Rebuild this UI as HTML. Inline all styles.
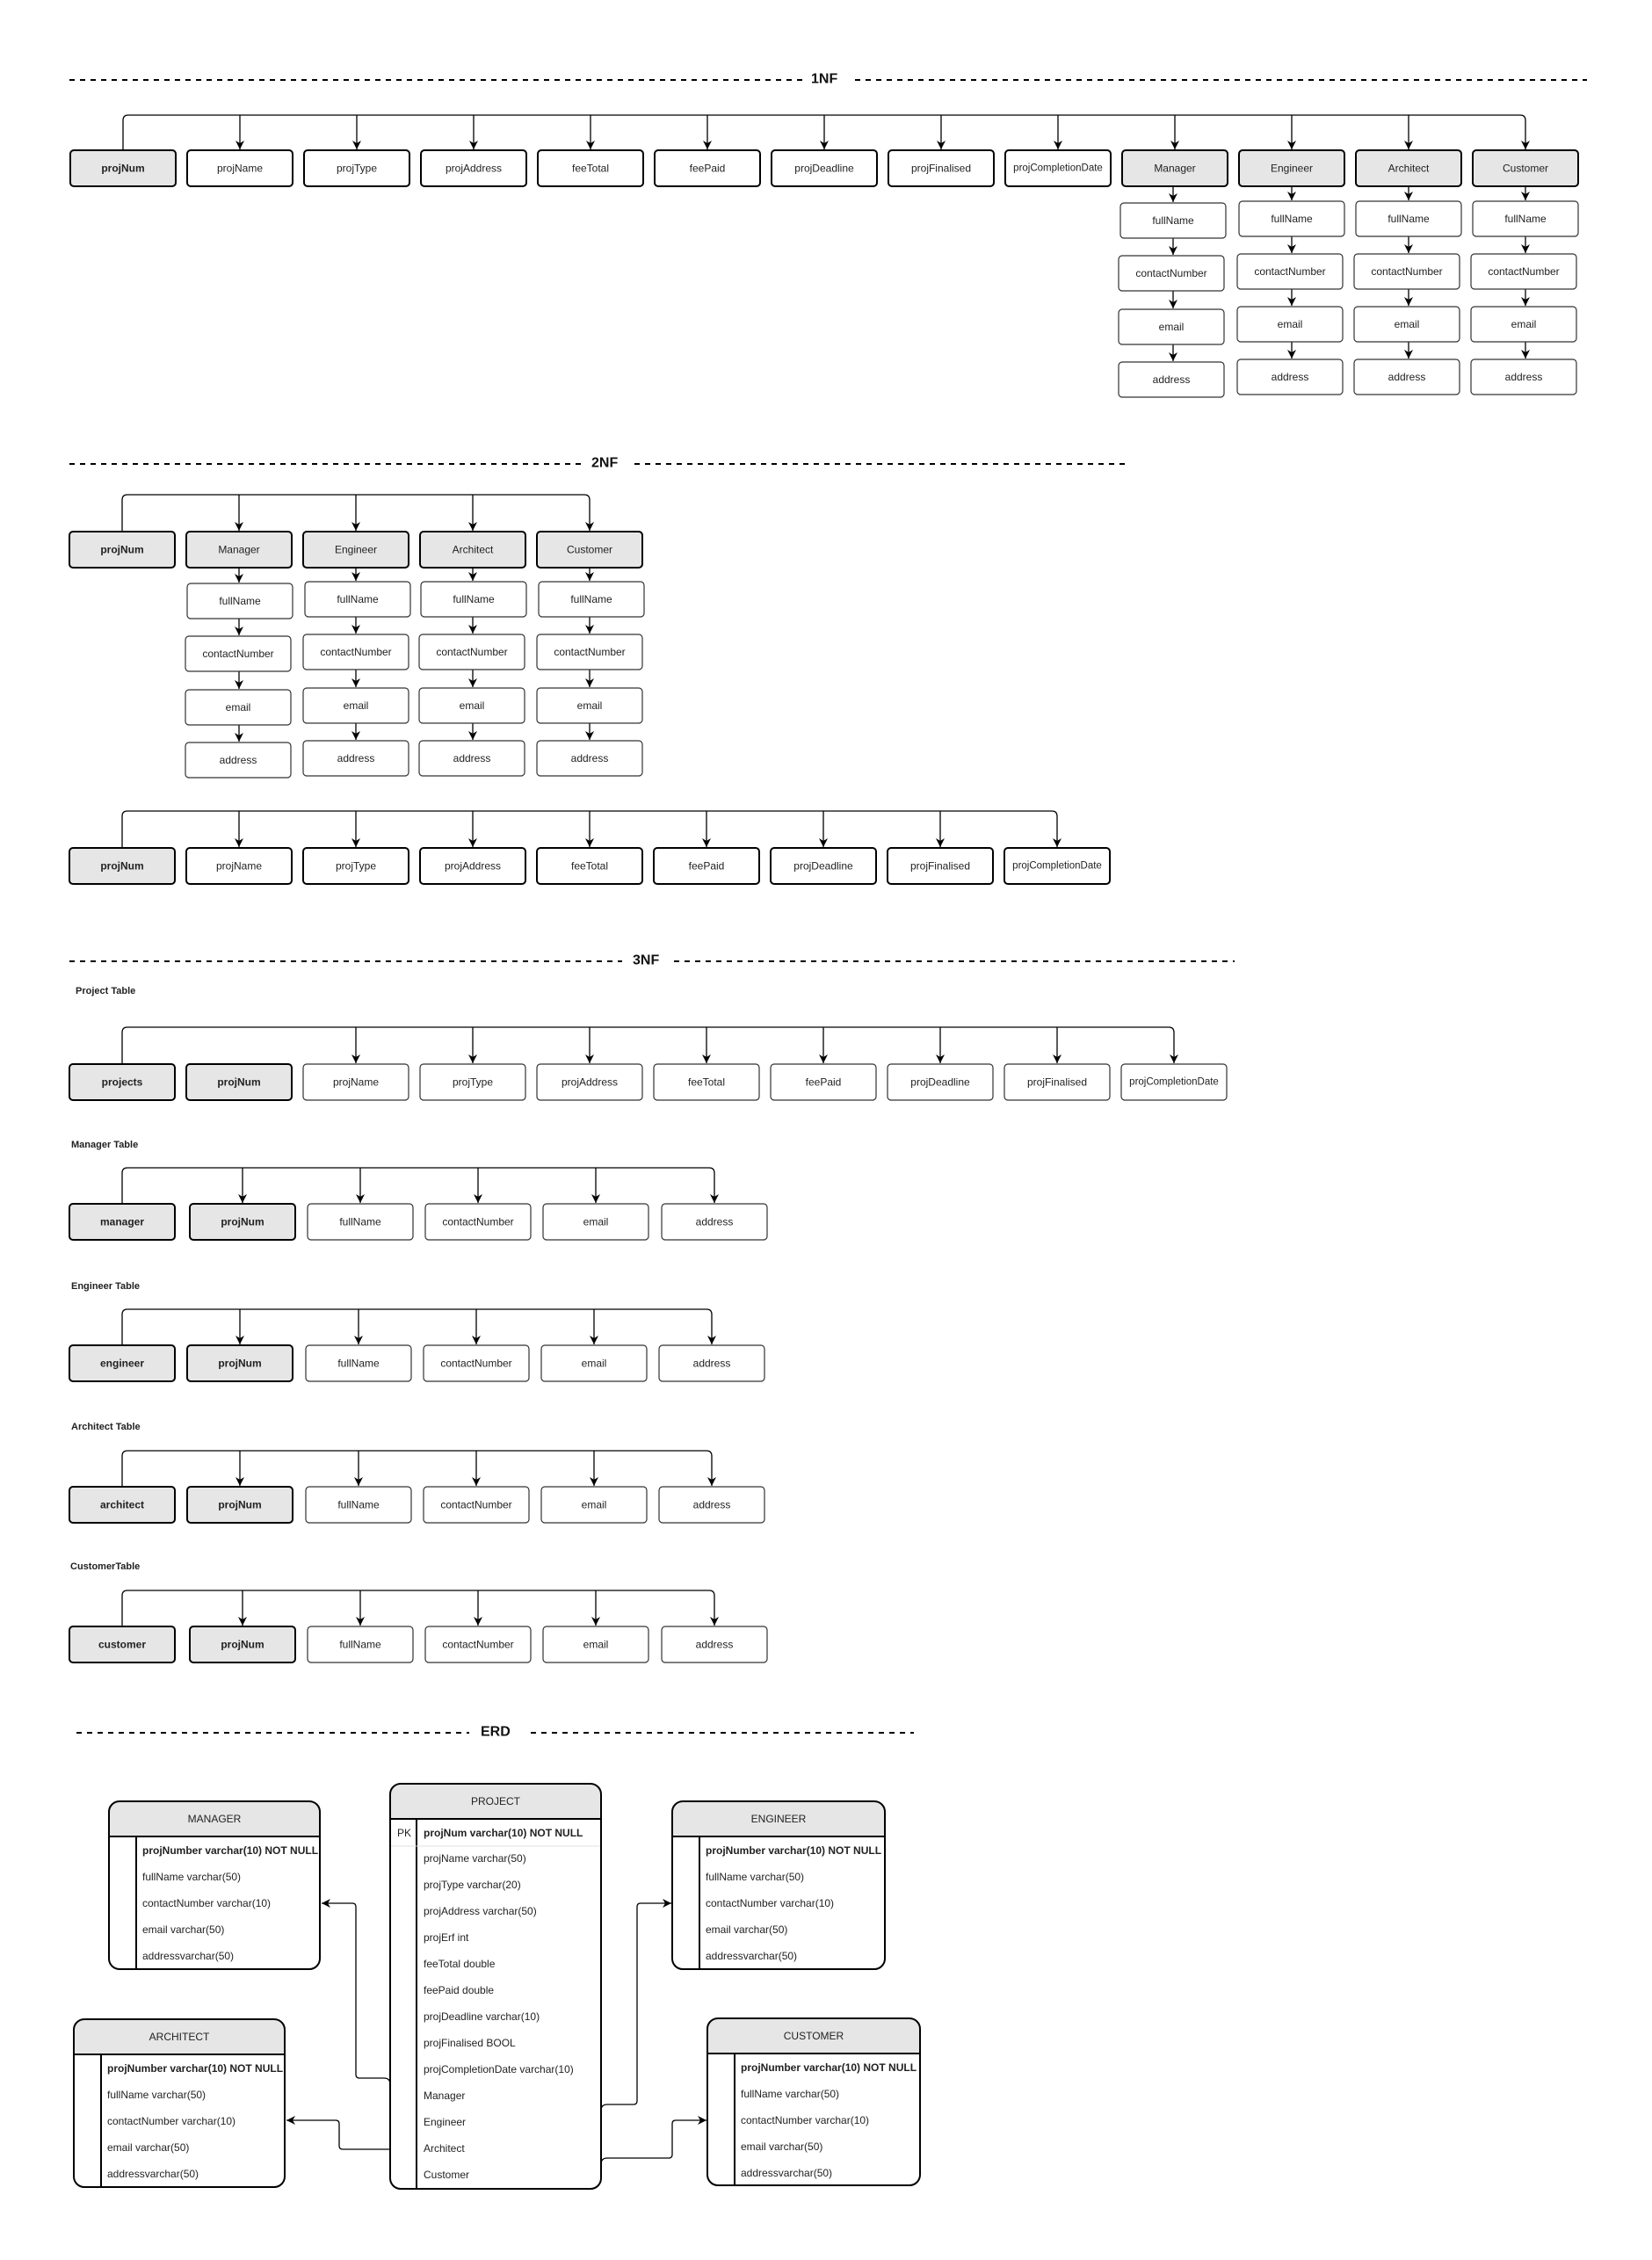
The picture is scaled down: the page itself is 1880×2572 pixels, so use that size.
<!DOCTYPE html>
<html><head><meta charset="utf-8"><style>
html,body{margin:0;padding:0;background:#fff}
svg{display:block}
text{font-family:"Liberation Sans",Arial,sans-serif;fill:#222}
.c{font-size:12px;text-anchor:middle;dominant-baseline:central}
.b{font-weight:bold}
.h{font-size:16px;font-weight:bold;dominant-baseline:central;fill:#111}
.tl{font-size:11px;font-weight:bold;dominant-baseline:central}
.r{font-size:12px;dominant-baseline:central}
.k{fill:#e6e6e6;stroke:#000;stroke-width:2}
.t{fill:#fff;stroke:#000;stroke-width:2}
.n{fill:#fff;stroke:#333;stroke-width:1.2}
.d{stroke:#000;stroke-width:2;stroke-dasharray:6 6;fill:none}
.w{stroke:#000;stroke-width:1.3;fill:none}
</style></head><body>
<svg width="1880" height="2572" viewBox="0 0 1880 2572" xmlns="http://www.w3.org/2000/svg">
<defs>
<marker id="a" markerUnits="userSpaceOnUse" markerWidth="12" markerHeight="12" refX="10" refY="5" orient="auto" viewBox="0 0 12 10">
<path d="M0,0 L10,5 L0,10 L3,5 Z" fill="#000"/></marker>
</defs>

<!-- ========== 1NF ========== -->
<line class="d" x1="79" y1="91" x2="915" y2="91"/>
<text class="h" x="923" y="90">1NF</text>
<line class="d" x1="973" y1="91" x2="1806" y2="91"/>

<path class="w" d="M140,171 V137 Q140,131 146,131 H1730 Q1736,131 1736,137 V170" marker-end="url(#a)"/>
<g class="w" marker-end="url(#a)">
<line x1="273" y1="131" x2="273" y2="170"/><line x1="406" y1="131" x2="406" y2="170"/>
<line x1="539" y1="131" x2="539" y2="170"/><line x1="672" y1="131" x2="672" y2="170"/>
<line x1="805" y1="131" x2="805" y2="170"/><line x1="938" y1="131" x2="938" y2="170"/>
<line x1="1071" y1="131" x2="1071" y2="170"/><line x1="1204" y1="131" x2="1204" y2="170"/>
<line x1="1337" y1="131" x2="1337" y2="170"/><line x1="1470" y1="131" x2="1470" y2="170"/>
<line x1="1603" y1="131" x2="1603" y2="170"/>
</g>
<rect class="k" x="80" y="171" width="120" height="41" rx="4"/><text class="c b" x="140" y="191.5">projNum</text>
<rect class="t" x="213" y="171" width="120" height="41" rx="4"/><text class="c" x="273" y="191.5">projName</text>
<rect class="t" x="346" y="171" width="120" height="41" rx="4"/><text class="c" x="406" y="191.5">projType</text>
<rect class="t" x="479" y="171" width="120" height="41" rx="4"/><text class="c" x="539" y="191.5">projAddress</text>
<rect class="t" x="612" y="171" width="120" height="41" rx="4"/><text class="c" x="672" y="191.5">feeTotal</text>
<rect class="t" x="745" y="171" width="120" height="41" rx="4"/><text class="c" x="805" y="191.5">feePaid</text>
<rect class="t" x="878" y="171" width="120" height="41" rx="4"/><text class="c" x="938" y="191.5">projDeadline</text>
<rect class="t" x="1011" y="171" width="120" height="41" rx="4"/><text class="c" x="1071" y="191.5">projFinalised</text>
<rect class="t" x="1144" y="171" width="120" height="41" rx="4"/><text class="c" x="1204" y="191.5" style="font-size:11.5px">projCompletionDate</text>
<rect class="k" x="1277" y="171" width="120" height="41" rx="4"/><text class="c" x="1337" y="191.5">Manager</text>
<rect class="k" x="1410" y="171" width="120" height="41" rx="4"/><text class="c" x="1470" y="191.5">Engineer</text>
<rect class="k" x="1543" y="171" width="120" height="41" rx="4"/><text class="c" x="1603" y="191.5">Architect</text>
<rect class="k" x="1676" y="171" width="120" height="41" rx="4"/><text class="c" x="1736" y="191.5">Customer</text>

<!-- 1NF subs: Manager -->
<g class="w" marker-end="url(#a)">
<line x1="1335" y1="212" x2="1335" y2="230"/><line x1="1335" y1="271" x2="1335" y2="290"/>
<line x1="1335" y1="331" x2="1335" y2="351"/><line x1="1335" y1="392" x2="1335" y2="411"/>
<line x1="1470" y1="212" x2="1470" y2="228"/><line x1="1470" y1="269" x2="1470" y2="288"/>
<line x1="1470" y1="329" x2="1470" y2="348"/><line x1="1470" y1="389" x2="1470" y2="408"/>
<line x1="1603" y1="212" x2="1603" y2="228"/><line x1="1603" y1="269" x2="1603" y2="288"/>
<line x1="1603" y1="329" x2="1603" y2="348"/><line x1="1603" y1="389" x2="1603" y2="408"/>
<line x1="1736" y1="212" x2="1736" y2="228"/><line x1="1736" y1="269" x2="1736" y2="288"/>
<line x1="1736" y1="329" x2="1736" y2="348"/><line x1="1736" y1="389" x2="1736" y2="408"/>
</g>
<rect class="n" x="1275" y="231" width="120" height="40" rx="4"/><text class="c" x="1335" y="251">fullName</text>
<rect class="n" x="1273" y="291" width="120" height="40" rx="4"/><text class="c" x="1333" y="311">contactNumber</text>
<rect class="n" x="1273" y="352" width="120" height="40" rx="4"/><text class="c" x="1333" y="372">email</text>
<rect class="n" x="1273" y="412" width="120" height="40" rx="4"/><text class="c" x="1333" y="432">address</text>

<rect class="n" x="1410" y="229" width="120" height="40" rx="4"/><text class="c" x="1470" y="249">fullName</text>
<rect class="n" x="1408" y="289" width="120" height="40" rx="4"/><text class="c" x="1468" y="309">contactNumber</text>
<rect class="n" x="1408" y="349" width="120" height="40" rx="4"/><text class="c" x="1468" y="369">email</text>
<rect class="n" x="1408" y="409" width="120" height="40" rx="4"/><text class="c" x="1468" y="429">address</text>

<rect class="n" x="1543" y="229" width="120" height="40" rx="4"/><text class="c" x="1603" y="249">fullName</text>
<rect class="n" x="1541" y="289" width="120" height="40" rx="4"/><text class="c" x="1601" y="309">contactNumber</text>
<rect class="n" x="1541" y="349" width="120" height="40" rx="4"/><text class="c" x="1601" y="369">email</text>
<rect class="n" x="1541" y="409" width="120" height="40" rx="4"/><text class="c" x="1601" y="429">address</text>

<rect class="n" x="1676" y="229" width="120" height="40" rx="4"/><text class="c" x="1736" y="249">fullName</text>
<rect class="n" x="1674" y="289" width="120" height="40" rx="4"/><text class="c" x="1734" y="309">contactNumber</text>
<rect class="n" x="1674" y="349" width="120" height="40" rx="4"/><text class="c" x="1734" y="369">email</text>
<rect class="n" x="1674" y="409" width="120" height="40" rx="4"/><text class="c" x="1734" y="429">address</text>

<!-- ========== 2NF ========== -->
<line class="d" x1="79" y1="528" x2="662" y2="528"/>
<text class="h" x="673" y="527">2NF</text>
<line class="d" x1="722" y1="528" x2="1281" y2="528"/>

<path class="w" d="M139,605 V569 Q139,563 145,563 H665 Q671,563 671,569 V604" marker-end="url(#a)"/>
<g class="w" marker-end="url(#a)">
<line x1="272" y1="563" x2="272" y2="604"/><line x1="405" y1="563" x2="405" y2="604"/><line x1="538" y1="563" x2="538" y2="604"/>
</g>
<rect class="k" x="79" y="605" width="120" height="41" rx="4"/><text class="c b" x="139" y="625.5">projNum</text>
<rect class="k" x="212" y="605" width="120" height="41" rx="4"/><text class="c" x="272" y="625.5">Manager</text>
<rect class="k" x="345" y="605" width="120" height="41" rx="4"/><text class="c" x="405" y="625.5">Engineer</text>
<rect class="k" x="478" y="605" width="120" height="41" rx="4"/><text class="c" x="538" y="625.5">Architect</text>
<rect class="k" x="611" y="605" width="120" height="41" rx="4"/><text class="c" x="671" y="625.5">Customer</text>

<g class="w" marker-end="url(#a)">
<line x1="272" y1="646" x2="272" y2="663"/><line x1="272" y1="704" x2="272" y2="723"/><line x1="272" y1="764" x2="272" y2="784"/><line x1="272" y1="825" x2="272" y2="844"/>
<line x1="405" y1="646" x2="405" y2="661"/><line x1="405" y1="702" x2="405" y2="721"/><line x1="405" y1="762" x2="405" y2="782"/><line x1="405" y1="823" x2="405" y2="842"/>
<line x1="538" y1="646" x2="538" y2="661"/><line x1="538" y1="702" x2="538" y2="721"/><line x1="538" y1="762" x2="538" y2="782"/><line x1="538" y1="823" x2="538" y2="842"/>
<line x1="671" y1="646" x2="671" y2="661"/><line x1="671" y1="702" x2="671" y2="721"/><line x1="671" y1="762" x2="671" y2="782"/><line x1="671" y1="823" x2="671" y2="842"/>
</g>
<rect class="n" x="213" y="664" width="120" height="40" rx="4"/><text class="c" x="273" y="684">fullName</text>
<rect class="n" x="211" y="724" width="120" height="40" rx="4"/><text class="c" x="271" y="744">contactNumber</text>
<rect class="n" x="211" y="785" width="120" height="40" rx="4"/><text class="c" x="271" y="805">email</text>
<rect class="n" x="211" y="845" width="120" height="40" rx="4"/><text class="c" x="271" y="865">address</text>

<rect class="n" x="347" y="662" width="120" height="40" rx="4"/><text class="c" x="407" y="682">fullName</text>
<rect class="n" x="345" y="722" width="120" height="40" rx="4"/><text class="c" x="405" y="742">contactNumber</text>
<rect class="n" x="345" y="783" width="120" height="40" rx="4"/><text class="c" x="405" y="803">email</text>
<rect class="n" x="345" y="843" width="120" height="40" rx="4"/><text class="c" x="405" y="863">address</text>

<rect class="n" x="479" y="662" width="120" height="40" rx="4"/><text class="c" x="539" y="682">fullName</text>
<rect class="n" x="477" y="722" width="120" height="40" rx="4"/><text class="c" x="537" y="742">contactNumber</text>
<rect class="n" x="477" y="783" width="120" height="40" rx="4"/><text class="c" x="537" y="803">email</text>
<rect class="n" x="477" y="843" width="120" height="40" rx="4"/><text class="c" x="537" y="863">address</text>

<rect class="n" x="613" y="662" width="120" height="40" rx="4"/><text class="c" x="673" y="682">fullName</text>
<rect class="n" x="611" y="722" width="120" height="40" rx="4"/><text class="c" x="671" y="742">contactNumber</text>
<rect class="n" x="611" y="783" width="120" height="40" rx="4"/><text class="c" x="671" y="803">email</text>
<rect class="n" x="611" y="843" width="120" height="40" rx="4"/><text class="c" x="671" y="863">address</text>

<!-- 2NF bottom row -->
<path class="w" d="M139,965 V929 Q139,923 145,923 H1197 Q1203,923 1203,929 V964" marker-end="url(#a)"/>
<g class="w" marker-end="url(#a)">
<line x1="272" y1="923" x2="272" y2="964"/><line x1="405" y1="923" x2="405" y2="964"/><line x1="538" y1="923" x2="538" y2="964"/>
<line x1="671" y1="923" x2="671" y2="964"/><line x1="804" y1="923" x2="804" y2="964"/><line x1="937" y1="923" x2="937" y2="964"/>
<line x1="1070" y1="923" x2="1070" y2="964"/>
</g>
<rect class="k" x="79" y="965" width="120" height="41" rx="4"/><text class="c b" x="139" y="985.5">projNum</text>
<rect class="t" x="212" y="965" width="120" height="41" rx="4"/><text class="c" x="272" y="985.5">projName</text>
<rect class="t" x="345" y="965" width="120" height="41" rx="4"/><text class="c" x="405" y="985.5">projType</text>
<rect class="t" x="478" y="965" width="120" height="41" rx="4"/><text class="c" x="538" y="985.5">projAddress</text>
<rect class="t" x="611" y="965" width="120" height="41" rx="4"/><text class="c" x="671" y="985.5">feeTotal</text>
<rect class="t" x="744" y="965" width="120" height="41" rx="4"/><text class="c" x="804" y="985.5">feePaid</text>
<rect class="t" x="877" y="965" width="120" height="41" rx="4"/><text class="c" x="937" y="985.5">projDeadline</text>
<rect class="t" x="1010" y="965" width="120" height="41" rx="4"/><text class="c" x="1070" y="985.5">projFinalised</text>
<rect class="t" x="1143" y="965" width="120" height="41" rx="4"/><text class="c" x="1203" y="985.5" style="font-size:11.5px">projCompletionDate</text>

<!-- ========== 3NF ========== -->
<line class="d" x1="79" y1="1094" x2="708" y2="1094"/>
<text class="h" x="720" y="1093">3NF</text>
<line class="d" x1="767" y1="1094" x2="1405" y2="1094"/>

<text class="tl" x="86" y="1128">Project Table</text>
<path class="w" d="M139,1211 V1175 Q139,1169 145,1169 H1330 Q1336,1169 1336,1175 V1210" marker-end="url(#a)"/>
<g class="w" marker-end="url(#a)">
<line x1="405" y1="1169" x2="405" y2="1210"/><line x1="538" y1="1169" x2="538" y2="1210"/><line x1="671" y1="1169" x2="671" y2="1210"/>
<line x1="804" y1="1169" x2="804" y2="1210"/><line x1="937" y1="1169" x2="937" y2="1210"/><line x1="1070" y1="1169" x2="1070" y2="1210"/>
<line x1="1203" y1="1169" x2="1203" y2="1210"/>
</g>
<rect class="k" x="79" y="1211" width="120" height="41" rx="4"/><text class="c b" x="139" y="1231.5">projects</text>
<rect class="k" x="212" y="1211" width="120" height="41" rx="4"/><text class="c b" x="272" y="1231.5">projNum</text>
<rect class="n" x="345" y="1211" width="120" height="41" rx="4"/><text class="c" x="405" y="1231.5">projName</text>
<rect class="n" x="478" y="1211" width="120" height="41" rx="4"/><text class="c" x="538" y="1231.5">projType</text>
<rect class="n" x="611" y="1211" width="120" height="41" rx="4"/><text class="c" x="671" y="1231.5">projAddress</text>
<rect class="n" x="744" y="1211" width="120" height="41" rx="4"/><text class="c" x="804" y="1231.5">feeTotal</text>
<rect class="n" x="877" y="1211" width="120" height="41" rx="4"/><text class="c" x="937" y="1231.5">feePaid</text>
<rect class="n" x="1010" y="1211" width="120" height="41" rx="4"/><text class="c" x="1070" y="1231.5">projDeadline</text>
<rect class="n" x="1143" y="1211" width="120" height="41" rx="4"/><text class="c" x="1203" y="1231.5">projFinalised</text>
<rect class="n" x="1276" y="1211" width="120" height="41" rx="4"/><text class="c" x="1336" y="1231.5" style="font-size:11.5px">projCompletionDate</text>

<!-- Manager Table -->
<text class="tl" x="81" y="1303">Manager Table</text>
<path class="w" d="M139,1370 V1335 Q139,1329 145,1329 H807 Q813,1329 813,1335 V1369" marker-end="url(#a)"/>
<g class="w" marker-end="url(#a)">
<line x1="276" y1="1329" x2="276" y2="1369"/><line x1="410" y1="1329" x2="410" y2="1369"/><line x1="544" y1="1329" x2="544" y2="1369"/><line x1="678" y1="1329" x2="678" y2="1369"/>
</g>
<rect class="k" x="79" y="1370" width="120" height="41" rx="4"/><text class="c b" x="139" y="1390.5">manager</text>
<rect class="k" x="216" y="1370" width="120" height="41" rx="4"/><text class="c b" x="276" y="1390.5">projNum</text>
<rect class="n" x="350" y="1370" width="120" height="41" rx="4"/><text class="c" x="410" y="1390.5">fullName</text>
<rect class="n" x="484" y="1370" width="120" height="41" rx="4"/><text class="c" x="544" y="1390.5">contactNumber</text>
<rect class="n" x="618" y="1370" width="120" height="41" rx="4"/><text class="c" x="678" y="1390.5">email</text>
<rect class="n" x="753" y="1370" width="120" height="41" rx="4"/><text class="c" x="813" y="1390.5">address</text>

<!-- Engineer Table -->
<text class="tl" x="81" y="1464">Engineer Table</text>
<path class="w" d="M139,1531 V1496 Q139,1490 145,1490 H804 Q810,1490 810,1496 V1530" marker-end="url(#a)"/>
<g class="w" marker-end="url(#a)">
<line x1="273" y1="1490" x2="273" y2="1530"/><line x1="408" y1="1490" x2="408" y2="1530"/><line x1="542" y1="1490" x2="542" y2="1530"/><line x1="676" y1="1490" x2="676" y2="1530"/>
</g>
<rect class="k" x="79" y="1531" width="120" height="41" rx="4"/><text class="c b" x="139" y="1551.5">engineer</text>
<rect class="k" x="213" y="1531" width="120" height="41" rx="4"/><text class="c b" x="273" y="1551.5">projNum</text>
<rect class="n" x="348" y="1531" width="120" height="41" rx="4"/><text class="c" x="408" y="1551.5">fullName</text>
<rect class="n" x="482" y="1531" width="120" height="41" rx="4"/><text class="c" x="542" y="1551.5">contactNumber</text>
<rect class="n" x="616" y="1531" width="120" height="41" rx="4"/><text class="c" x="676" y="1551.5">email</text>
<rect class="n" x="750" y="1531" width="120" height="41" rx="4"/><text class="c" x="810" y="1551.5">address</text>

<!-- Architect Table -->
<text class="tl" x="81" y="1624">Architect Table</text>
<path class="w" d="M139,1692 V1657 Q139,1651 145,1651 H804 Q810,1651 810,1657 V1691" marker-end="url(#a)"/>
<g class="w" marker-end="url(#a)">
<line x1="273" y1="1651" x2="273" y2="1691"/><line x1="408" y1="1651" x2="408" y2="1691"/><line x1="542" y1="1651" x2="542" y2="1691"/><line x1="676" y1="1651" x2="676" y2="1691"/>
</g>
<rect class="k" x="79" y="1692" width="120" height="41" rx="4"/><text class="c b" x="139" y="1712.5">architect</text>
<rect class="k" x="213" y="1692" width="120" height="41" rx="4"/><text class="c b" x="273" y="1712.5">projNum</text>
<rect class="n" x="348" y="1692" width="120" height="41" rx="4"/><text class="c" x="408" y="1712.5">fullName</text>
<rect class="n" x="482" y="1692" width="120" height="41" rx="4"/><text class="c" x="542" y="1712.5">contactNumber</text>
<rect class="n" x="616" y="1692" width="120" height="41" rx="4"/><text class="c" x="676" y="1712.5">email</text>
<rect class="n" x="750" y="1692" width="120" height="41" rx="4"/><text class="c" x="810" y="1712.5">address</text>

<!-- Customer Table -->
<text class="tl" x="80" y="1783">CustomerTable</text>
<path class="w" d="M139,1851 V1816 Q139,1810 145,1810 H807 Q813,1810 813,1816 V1850" marker-end="url(#a)"/>
<g class="w" marker-end="url(#a)">
<line x1="276" y1="1810" x2="276" y2="1850"/><line x1="410" y1="1810" x2="410" y2="1850"/><line x1="544" y1="1810" x2="544" y2="1850"/><line x1="678" y1="1810" x2="678" y2="1850"/>
</g>
<rect class="k" x="79" y="1851" width="120" height="41" rx="4"/><text class="c b" x="139" y="1871.5">customer</text>
<rect class="k" x="216" y="1851" width="120" height="41" rx="4"/><text class="c b" x="276" y="1871.5">projNum</text>
<rect class="n" x="350" y="1851" width="120" height="41" rx="4"/><text class="c" x="410" y="1871.5">fullName</text>
<rect class="n" x="484" y="1851" width="120" height="41" rx="4"/><text class="c" x="544" y="1871.5">contactNumber</text>
<rect class="n" x="618" y="1851" width="120" height="41" rx="4"/><text class="c" x="678" y="1871.5">email</text>
<rect class="n" x="753" y="1851" width="120" height="41" rx="4"/><text class="c" x="813" y="1871.5">address</text>

<!-- ========== ERD ========== -->
<line class="d" x1="87" y1="1972" x2="534" y2="1972"/>
<text class="h" x="547" y="1971">ERD</text>
<line class="d" x1="604" y1="1972" x2="1040" y2="1972"/>

<!-- connectors -->
<path class="w" d="M444,2372 Q444,2365 437,2365 H409 Q405,2365 405,2361 V2170 Q405,2166 401,2166 H366" marker-end="url(#a)"/>
<path class="w" d="M444,2446 H390 Q386,2446 386,2442 V2417 Q386,2413 382,2413 H326" marker-end="url(#a)"/>
<path class="w" d="M684,2402 Q684,2395 691,2395 H721 Q725,2395 725,2391 V2170 Q725,2166 729,2166 H764" marker-end="url(#a)"/>
<path class="w" d="M684,2463 Q684,2456 691,2456 H761 Q765,2456 765,2452 V2417 Q765,2413 769,2413 H804" marker-end="url(#a)"/>

<!-- MANAGER -->
<path d="M124,2090 V2062 Q124,2050 136,2050 H352 Q364,2050 364,2062 V2090 Z" fill="#e6e6e6"/>
<rect x="124" y="2050" width="240" height="191" rx="12" fill="none" stroke="#000" stroke-width="2"/>
<line x1="124" y1="2090" x2="364" y2="2090" stroke="#000" stroke-width="2"/>
<line x1="155" y1="2090" x2="155" y2="2241" stroke="#000" stroke-width="2"/>
<text class="c" x="244" y="2070">MANAGER</text>
<text class="r b" x="162" y="2106">projNumber varchar(10) NOT NULL</text>
<text class="r" x="162" y="2136">fullName varchar(50)</text>
<text class="r" x="162" y="2166">contactNumber varchar(10)</text>
<text class="r" x="162" y="2196">email varchar(50)</text>
<text class="r" x="162" y="2226">addressvarchar(50)</text>

<!-- ENGINEER -->
<path d="M765,2090 V2062 Q765,2050 777,2050 H995 Q1007,2050 1007,2062 V2090 Z" fill="#e6e6e6"/>
<rect x="765" y="2050" width="242" height="191" rx="12" fill="none" stroke="#000" stroke-width="2"/>
<line x1="765" y1="2090" x2="1007" y2="2090" stroke="#000" stroke-width="2"/>
<line x1="796" y1="2090" x2="796" y2="2241" stroke="#000" stroke-width="2"/>
<text class="c" x="886" y="2070">ENGINEER</text>
<text class="r b" x="803" y="2106">projNumber varchar(10) NOT NULL</text>
<text class="r" x="803" y="2136">fullName varchar(50)</text>
<text class="r" x="803" y="2166">contactNumber varchar(10)</text>
<text class="r" x="803" y="2196">email varchar(50)</text>
<text class="r" x="803" y="2226">addressvarchar(50)</text>

<!-- ARCHITECT -->
<path d="M84,2338 V2310 Q84,2298 96,2298 H312 Q324,2298 324,2310 V2338 Z" fill="#e6e6e6"/>
<rect x="84" y="2298" width="240" height="191" rx="12" fill="none" stroke="#000" stroke-width="2"/>
<line x1="84" y1="2338" x2="324" y2="2338" stroke="#000" stroke-width="2"/>
<line x1="115" y1="2338" x2="115" y2="2489" stroke="#000" stroke-width="2"/>
<text class="c" x="204" y="2318">ARCHITECT</text>
<text class="r b" x="122" y="2354">projNumber varchar(10) NOT NULL</text>
<text class="r" x="122" y="2384">fullName varchar(50)</text>
<text class="r" x="122" y="2414">contactNumber varchar(10)</text>
<text class="r" x="122" y="2444">email varchar(50)</text>
<text class="r" x="122" y="2474">addressvarchar(50)</text>

<!-- CUSTOMER -->
<path d="M805,2337 V2309 Q805,2297 817,2297 H1035 Q1047,2297 1047,2309 V2337 Z" fill="#e6e6e6"/>
<rect x="805" y="2297" width="242" height="190" rx="12" fill="none" stroke="#000" stroke-width="2"/>
<line x1="805" y1="2337" x2="1047" y2="2337" stroke="#000" stroke-width="2"/>
<line x1="836" y1="2337" x2="836" y2="2487" stroke="#000" stroke-width="2"/>
<text class="c" x="926" y="2317">CUSTOMER</text>
<text class="r b" x="843" y="2353">projNumber varchar(10) NOT NULL</text>
<text class="r" x="843" y="2383">fullName varchar(50)</text>
<text class="r" x="843" y="2413">contactNumber varchar(10)</text>
<text class="r" x="843" y="2443">email varchar(50)</text>
<text class="r" x="843" y="2473">addressvarchar(50)</text>

<!-- PROJECT -->
<path d="M444,2070 V2042 Q444,2030 456,2030 H672 Q684,2030 684,2042 V2070 Z" fill="#e6e6e6"/>
<rect x="444" y="2030" width="240" height="461" rx="12" fill="none" stroke="#000" stroke-width="2"/>
<line x1="444" y1="2070" x2="684" y2="2070" stroke="#000" stroke-width="2"/>
<line x1="474" y1="2070" x2="474" y2="2491" stroke="#000" stroke-width="2"/>
<line x1="445" y1="2101" x2="683" y2="2101" stroke="#e0e0e0" stroke-width="1"/>
<text class="c" x="564" y="2050">PROJECT</text>
<text class="r" x="452" y="2086">PK</text>
<text class="r b" x="482" y="2086">projNum varchar(10) NOT NULL</text>
<text class="r" x="482" y="2115">projName varchar(50)</text>
<text class="r" x="482" y="2145">projType varchar(20)</text>
<text class="r" x="482" y="2175">projAddress varchar(50)</text>
<text class="r" x="482" y="2205">projErf int</text>
<text class="r" x="482" y="2235">feeTotal double</text>
<text class="r" x="482" y="2265">feePaid double</text>
<text class="r" x="482" y="2295">projDeadline varchar(10)</text>
<text class="r" x="482" y="2325">projFinalised BOOL</text>
<text class="r" x="482" y="2355">projCompletionDate varchar(10)</text>
<text class="r" x="482" y="2385">Manager</text>
<text class="r" x="482" y="2415">Engineer</text>
<text class="r" x="482" y="2445">Architect</text>
<text class="r" x="482" y="2475">Customer</text>
</svg>
</body></html>
